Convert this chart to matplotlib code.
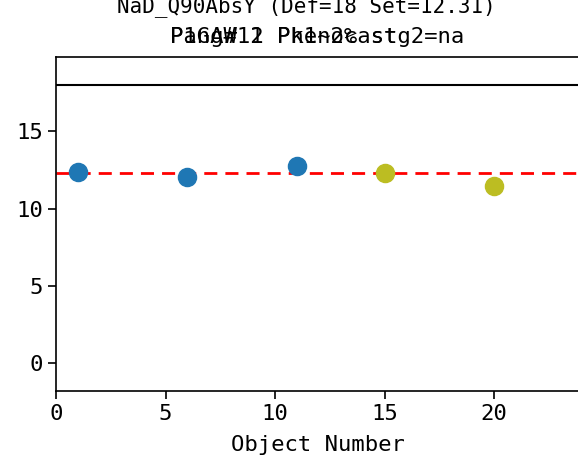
import matplotlib
matplotlib.use('Agg')
import matplotlib.pyplot as plt

# data
obj_blue = [1, 6, 11]
val_blue = [12.37, 12.02, 12.78]
obj_olive = [15, 20]
val_olive = [12.30, 11.48]
set_value = 12.31
def_value = 18

title1 = 'NaD_Q90AbsY (Def=18 Set=12.31)'
title2a = 'P1GAW 1 Phenocast'
title2b = 'Pang#12 Pk1~2% stg2=na'

plt.rcParams['font.family'] = ['DejaVu Sans Mono']
plt.rcParams['font.size'] = 16

fig = plt.figure(figsize=(5.78, 4.65), dpi=100)
ax = fig.add_axes([56/578, 74/465, 524/578, 334/465])

ax.axhline(def_value, color='black', lw=1.5)
ax.axhline(set_value, color='red', lw=2, dashes=(4.7, 2.9))
ax.scatter(obj_blue, val_blue, s=170, color='#1f77b4', zorder=3)
ax.scatter(obj_olive, val_olive, s=170, color='#bcbd22', zorder=3)

ax.set_xlim(0, 524/21.9)
ax.set_ylim(-1.8, 19.8)
ax.set_xticks([0, 5, 10, 15, 20])
ax.set_yticks([0, 5, 10, 15])
ax.tick_params(length=6, width=1.2)
for s in ax.spines.values():
    s.set_linewidth(1.2)
ax.set_xlabel('Object Number', labelpad=8)

fig.text(306/578, 1 - 12/465, title1, ha='center', va='baseline', fontsize=15)
fig.text(170/578, 1 - 43/465, title2a, ha='left', va='baseline')
fig.text(170/578, 1 - 43/465, title2b, ha='left', va='baseline')

fig.savefig('out.png', dpi=100)
